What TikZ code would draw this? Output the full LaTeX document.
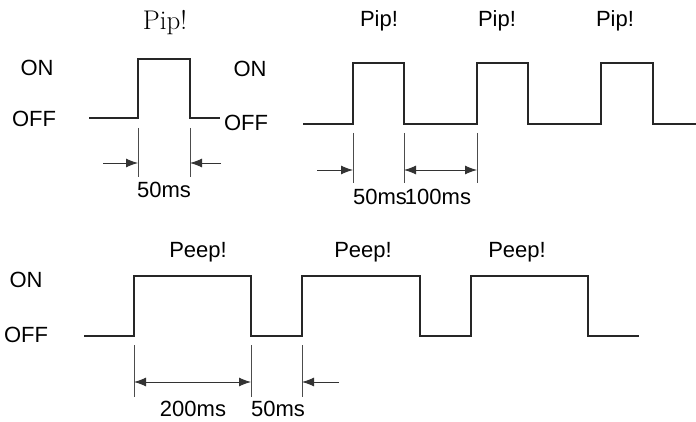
\documentclass[tikz,border=0pt]{standalone}
\usepackage{fontspec}
\usepackage{tikz}
\usetikzlibrary{arrows.meta,positioning,calc}
\newfontfamily\labelfont{Liberation Sans}

\begin{document}
\begin{tikzpicture}[x=1pt, y=-1pt, >={Latex[length=12pt,width=9pt]},
    lbl/.style={inner sep=0pt, font=\labelfont\fontsize{22}{25}\selectfont},
    pip/.style={inner sep=0pt, font=\fontsize{27}{30}\selectfont},
    wave/.style={line width=1.7pt, line join=miter, black!85},
    ext/.style={line width=0.9pt, black!70},
    dim/.style={line width=0.9pt, black!80}]
    \useasboundingbox (0,0) rectangle (696,422);

    % single pip
    \node [pip] (pipA) at (165,23) {Pip!};
    \node [lbl] (onA) at (37,68) {ON};
    \node [lbl] (offA) at (34,119) {OFF};
    \draw [wave] (89,118) -- (138,118) coordinate (a1) -- (138,59) -- (190,59) -- (190,118) coordinate (a2) -- (220,118);
    \coordinate (a1t) at (138,128); \coordinate (a1b) at (138,177);
    \coordinate (a2t) at (190,128); \coordinate (a2b) at (190,177);
    \draw [ext] (a1t) -- (a1b);
    \draw [ext] (a2t) -- (a2b);
    \coordinate (a1s) at (103,163); \coordinate (a1e) at (138,163);
    \coordinate (a2s) at (221,163); \coordinate (a2e) at (190,163);
    \draw [dim, ->] (a1s) -- (a1e);
    \draw [dim, ->] (a2s) -- (a2e);
    \node [lbl] (tA) at (164,190) {50ms};

    % pip train
    \node [lbl] (onB) at (250,69) {ON};
    \node [lbl] (offB) at (246,123) {OFF};
    \draw [wave] (303,124) -- (353,124) -- (353,63) -- (404,63) -- (404,124) -- (477,124) -- (477,63) -- (528,63) -- (528,124) -- (601,124) -- (601,63) -- (653,63) -- (653,124) -- (696,124);
    \foreach \x/\n in {379/1, 497/2, 615/3}
        \node [lbl] (pipB\n) at (\x,21) {Pip!};
    \foreach \x/\n in {353/1, 404/2, 477/3} {
        \coordinate (b\n t) at (\x,133);
        \coordinate (b\n b) at (\x,183);
        \draw [ext] (b\n t) -- (b\n b);
    }
    \coordinate (b1s) at (317,170); \coordinate (b1e) at (353,170);
    \coordinate (b2s) at (404,170); \coordinate (b2e) at (477,170);
    \draw [dim, ->] (b1s) -- (b1e);
    \draw [dim, <->] (b2s) -- (b2e);
    \node [lbl] (tB1) at (380,197) {50ms};
    \node [lbl] (tB2) at (438,197) {100ms};

    % peep train
    \node [lbl] (onC) at (26,280) {ON};
    \node [lbl] (offC) at (26,335) {OFF};
    \draw [wave] (84,336) -- (134,336) -- (134,276) -- (251,276) -- (251,336) -- (302,336) -- (302,276) -- (420,276) -- (420,336) -- (471,336) -- (471,276) -- (588,276) -- (588,336) -- (639,336);
    \foreach \x/\n in {198/1, 363/2, 517/3}
        \node [lbl] (peep\n) at (\x,252) {Peep!};
    \foreach \x/\n in {134/1, 251/2, 302/3} {
        \coordinate (c\n t) at (\x,345);
        \coordinate (c\n b) at (\x,397);
        \draw [ext] (c\n t) -- (c\n b);
    }
    \coordinate (c1s) at (134,382); \coordinate (c1e) at (251,382);
    \coordinate (c2s) at (339,382); \coordinate (c2e) at (302,382);
    \draw [dim, <->] (c1s) -- (c1e);
    \draw [dim, ->] (c2s) -- (c2e);
    \node [lbl] (tC1) at (193,409) {200ms};
    \node [lbl] (tC2) at (278,409) {50ms};
\end{tikzpicture}
\end{document}
